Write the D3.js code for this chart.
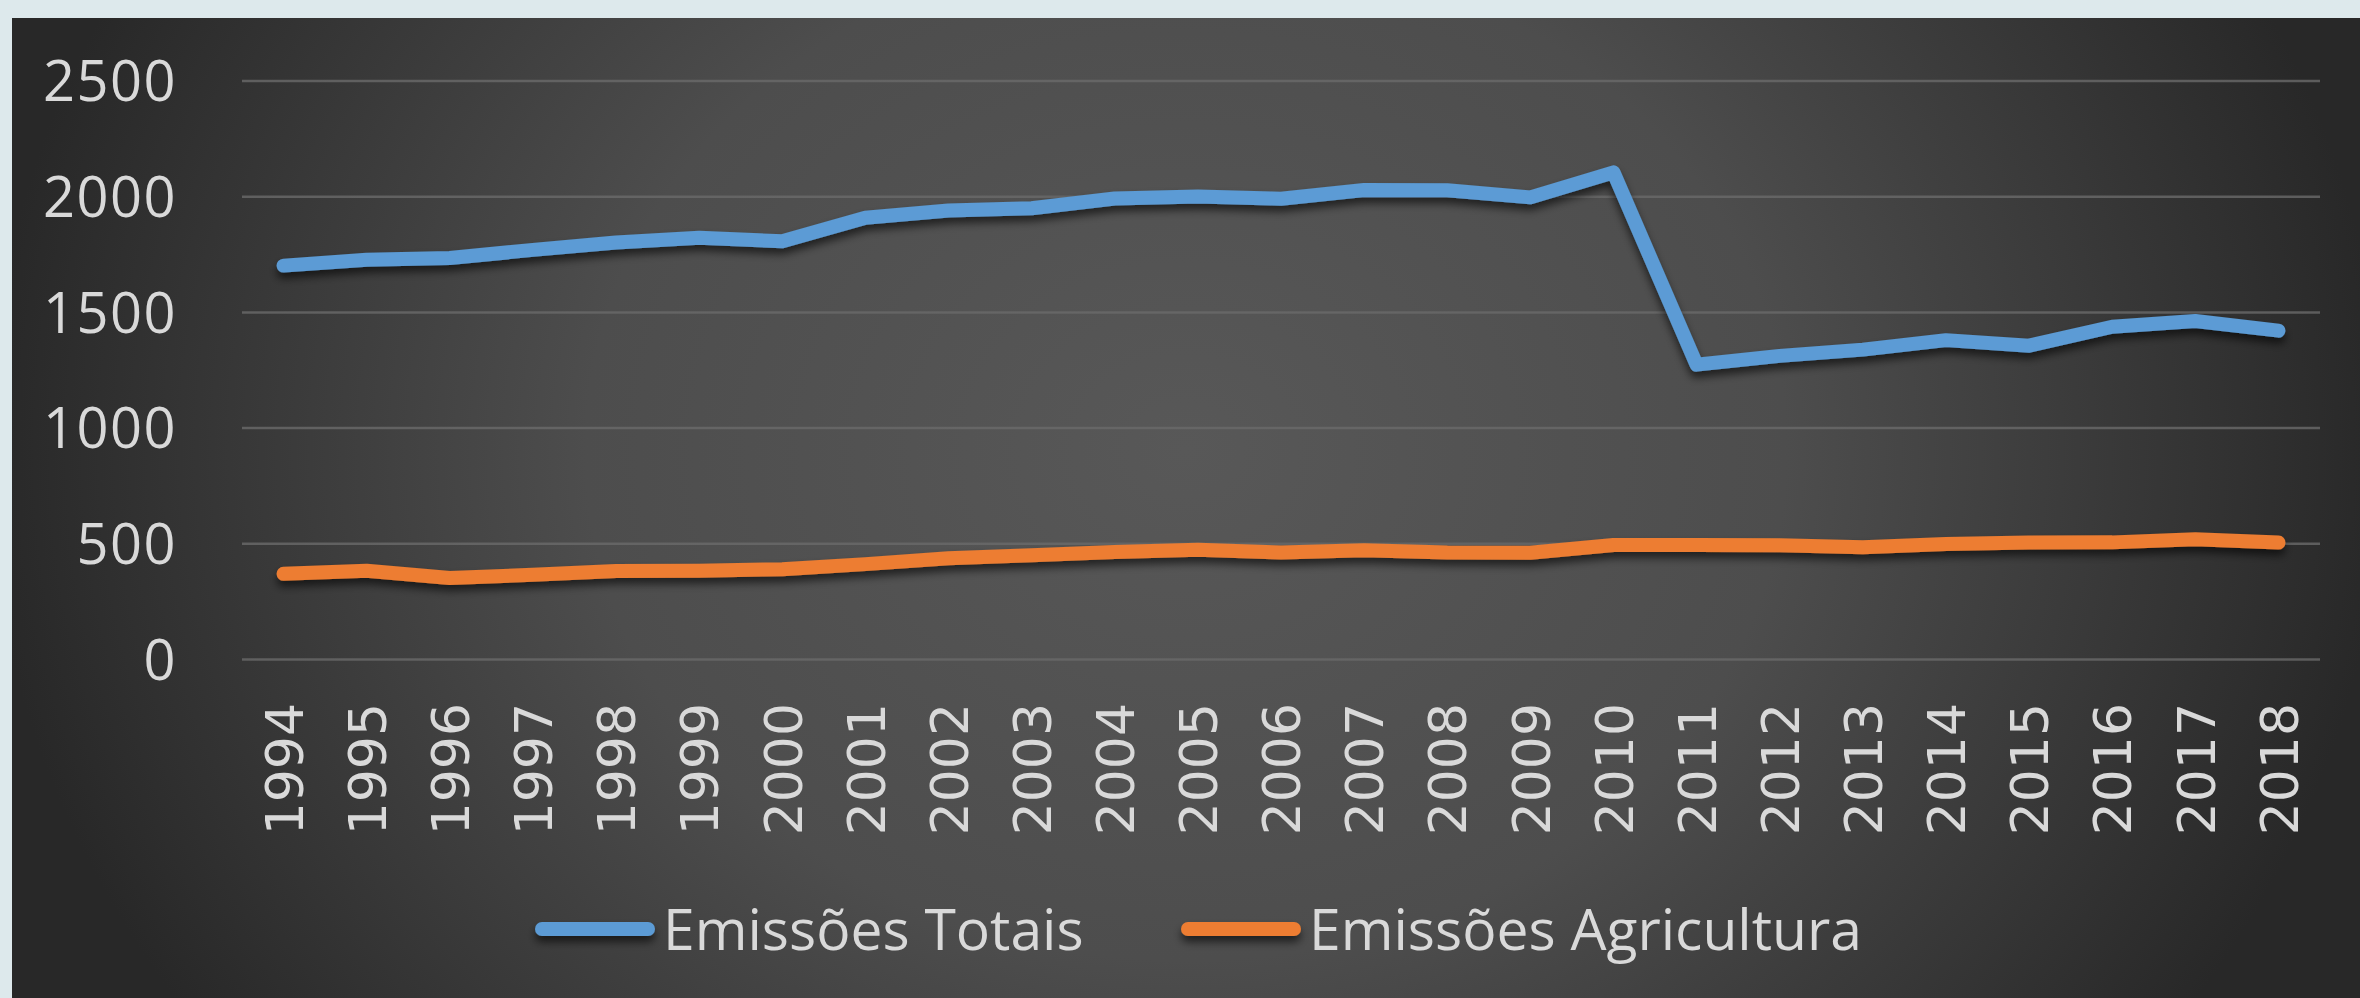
<!DOCTYPE html>
<html><head><meta charset="utf-8">
<script src="https://cdn.jsdelivr.net/npm/d3@7"></script>
<style>html,body{margin:0;padding:0;background:#dde9ec;overflow:hidden}svg{display:block}</style>
</head><body>
<svg id="chart" width="2360" height="998"></svg>
<script>
const years = [1994,1995,1996,1997,1998,1999,2000,2001,2002,2003,2004,2005,2006,2007,2008,2009,2010,2011,2012,2013,2014,2015,2016,2017,2018];
const totalEmissions = [1700,1725,1733,1768,1800,1820,1805,1907,1938,1948,1990,1999,1989,2027,2026,1995,2103,1272,1310,1337,1378,1354,1436,1461,1419];
const agricultureEmissions = [368,381,350,364,380,381,388,410,435,448,462,472,460,470,460,459,493,493,492,483,497,503,504,517,503];
const yTicks = [0,500,1000,1500,2000,2500];
const seriesNames = ["Emissões Totais","Emissões Agricultura"];
const seriesColors = ["#5b9bd5","#ed7d31"];

const svg = d3.select("#chart");
const defs = svg.append("defs");

const grad = defs.append("radialGradient").attr("id","bg")
  .attr("gradientUnits","userSpaceOnUse")
  .attr("cx",1186).attr("cy",450).attr("r",1200)
  .attr("gradientTransform","translate(0,450) scale(1,0.85) translate(0,-450)");
grad.append("stop").attr("offset","0").attr("stop-color","#585858");
grad.append("stop").attr("offset","0.5").attr("stop-color","#4d4d4d");
grad.append("stop").attr("offset","1").attr("stop-color","#282828");

const sh = defs.append("filter").attr("id","shadow")
  .attr("filterUnits","userSpaceOnUse")
  .attr("x",-2400).attr("y",-1000).attr("width",4800).attr("height",3000);
sh.append("feDropShadow").attr("dx",0).attr("dy",6).attr("stdDeviation",4)
  .attr("flood-color","#000").attr("flood-opacity",0.6);

svg.append("rect").attr("x",12).attr("y",18).attr("width",2348).attr("height",980).attr("fill","url(#bg)");

const x = d3.scalePoint().domain(years).range([242,2320]).padding(0.5);
const y = d3.scaleLinear().domain([0,2500]).range([659,80.5]);

// gridlines
const grid = svg.append("g").attr("transform","translate(242,0)")
  .call(d3.axisLeft(y).tickValues(yTicks).tickSize(-(2320-242)).tickFormat(""));
grid.select(".domain").remove();
grid.selectAll("line").attr("stroke","#6a6a6a").attr("stroke-width",2.5).attr("stroke-opacity",0.8);

// y labels
const ya = svg.append("g").attr("transform","translate(242,0)")
  .call(d3.axisLeft(y).tickValues(yTicks).tickSize(0).tickPadding(65).tickFormat(d3.format("d")));
ya.select(".domain").remove();
ya.selectAll("text").attr("font-family","'Open Sans'").attr("font-size",56)
  .attr("fill","#d9d9d9").attr("letter-spacing",1.5).attr("dy","0.36em");

// x labels
const xa = svg.append("g").attr("transform","translate(0,659)")
  .call(d3.axisBottom(x).tickSize(0));
xa.select(".domain").remove();
xa.selectAll("text")
  .attr("font-family","'DejaVu Sans'").attr("font-size",52).attr("fill","#d9d9d9")
  .attr("x",0).attr("y",0).attr("dy","0.36em")
  .attr("text-anchor","end")
  .attr("transform","translate(0,44) rotate(-90)");

// lines
const series = [totalEmissions, agricultureEmissions];
const line = d3.line().x((d,i)=>x(years[i])).y(d=>y(d));
series.forEach((vals,k)=>{
  svg.append("path").datum(vals)
    .attr("d",line)
    .attr("fill","none")
    .attr("stroke",seriesColors[k])
    .attr("stroke-width",14)
    .attr("stroke-linecap","round")
    .attr("stroke-linejoin","round")
    .attr("filter","url(#shadow)");
});

// legend
const legendPos = [542, 1188];
seriesNames.forEach((name,k)=>{
  const g = svg.append("g").attr("transform",`translate(${legendPos[k]},929)`);
  g.append("line").attr("x1",0).attr("x2",106).attr("y1",0).attr("y2",0)
    .attr("stroke",seriesColors[k]).attr("stroke-width",14).attr("stroke-linecap","round")
    .attr("filter","url(#shadow)");
  g.append("text").attr("x",121).attr("y",21)
    .attr("font-family","'Open Sans'").attr("font-size",57).attr("fill","#d9d9d9")
    .text(name);
});
</script>
</body></html>
